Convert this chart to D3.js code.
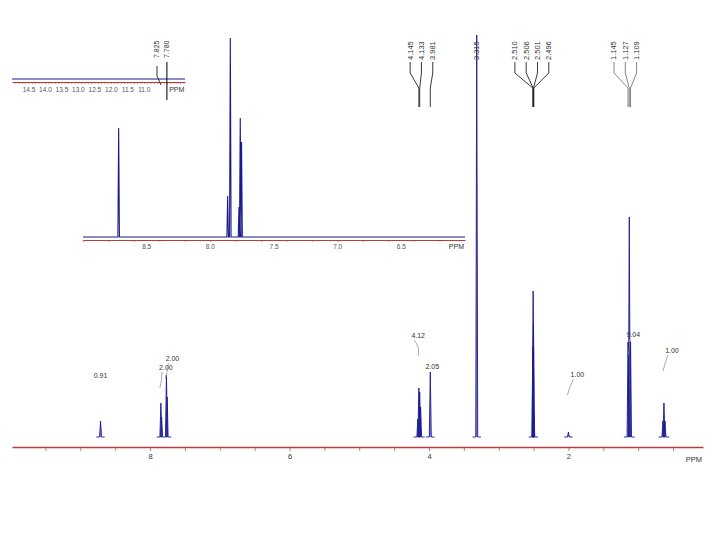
<!DOCTYPE html>
<html><head><meta charset="utf-8">
<script src="https://cdn.jsdelivr.net/npm/d3@7"></script>
<style>body{margin:0;background:#fff} svg{display:block;font-family:"Liberation Sans",Arial,sans-serif}</style>
</head><body><svg id="c" width="720" height="540"></svg>
<script>
// ---- data ----
// main spectrum peaks (ppm, relative intensity)
const mainPpm = [8.71, 7.845, 7.835, 7.765, 7.755, 4.16, 4.145, 4.133, 4.12, 3.981, 3.315, 2.510, 2.506, 2.501, 2.496, 2.00, 1.145, 1.127, 1.109, 0.645, 0.63, 0.615];
const mainInt = [16, 34, 20, 62, 40, 18, 49, 45, 30, 65, 402, 90, 146, 114, 22, 5, 95, 220, 95, 16, 34, 16];
// expanded aromatic region (inset)
const insetPpm = [8.72, 7.864, 7.843, 7.775, 7.765, 7.755];
const insetInt = [109, 41, 199, 30, 119, 95];
// peak pick labels
const pickLabels = ["4.145", "4.133", "3.981", "3.315", "2.510", "2.506", "2.501", "2.496", "1.145", "1.127", "1.109"];
const pickGroup  = [0, 0, 0, 1, 2, 2, 2, 2, 3, 3, 3];
const miniPickLabels = ["7.825", "7.780"];
// integrals
const integralText = ["0.91", "2.00", "2.00", "4.12", "2.05", "1.00", "9.04", "1.00"];
const integralPpm  = [8.71, 7.845, 7.765, 4.14, 3.981, 2.00, 1.127, 0.63];
// axis tick labels
const mainTickLabels = [8, 6, 4, 2];
const insetTickLabels = [8.5, 8.0, 7.5, 7.0, 6.5];
const miniTickLabels = [14.5, 14.0, 13.5, 13.0, 12.5, 12.0, 11.5, 11.0];

// ---- layout ----
const svg = d3.select("#c");
const NAVY = "#1a1a8c", RED = "#b83c3c", TXT = "#555";

const mainX = d3.scaleLinear().domain([9.98, 0.07]).range([12, 703]);
const mainY = d3.scaleLinear().domain([0, 402]).range([437, 35]);
const insetX = d3.scaleLinear().domain([9.0, 6.0]).range([83, 465]);
const insetY = d3.scaleLinear().domain([0, 199]).range([237, 38]);
const miniX = d3.scaleLinear().domain([15.0, 9.75]).range([12, 185]);

function spikes(ppms, ints, hw, from, to) {
  const idx = d3.range(ppms.length).sort((a, b) => ppms[b] - ppms[a]);
  const pts = [[from, 0]];
  idx.forEach(i => { pts.push([ppms[i] + hw, 0], [ppms[i], ints[i]], [ppms[i] - hw, 0]); });
  pts.push([to, 0]);
  return pts;
}

// ---- mini (top-left) axis ----
svg.append("line").attr("x1", 12).attr("x2", 185).attr("y1", 79).attr("y2", 79).attr("stroke", NAVY).attr("stroke-width", 1.2);
const miniAxis = d3.axisBottom(miniX)
  .tickValues(d3.range(98, 150).map(i => i / 10))
  .tickSize(2).tickSizeOuter(0).tickPadding(3)
  .tickFormat(d => miniTickLabels.some(v => Math.abs(v - d) < 1e-6) ? d3.format(".1f")(d) : "");
const gm = svg.append("g").attr("transform", "translate(0,82)").call(miniAxis);
gm.select(".domain").attr("stroke", RED).attr("stroke-width", 1.2);
gm.selectAll(".tick line").attr("stroke", RED).attr("stroke-width", 0.6);
gm.selectAll(".tick text").attr("fill", TXT).attr("font-size", 6.5);
svg.append("text").attr("x", miniX(10.0)).attr("y", 92).attr("text-anchor", "middle").attr("font-size", 7).attr("fill", "#333").text("PPM");
// mini pick labels (left over from expansion)
const miniPos = [10.6, 10.3];
miniPickLabels.forEach((t, i) => {
  const lx = miniX(miniPos[i]);
  svg.append("text").attr("transform", `translate(${lx + 2.5},58) rotate(-90)`).attr("font-size", 7).attr("fill", "#333").text(t);
});
svg.append("path").attr("d", `M${miniX(10.6)},66 V76 L${miniX(10.6) + 4},85`).attr("fill", "none").attr("stroke", "#222").attr("stroke-width", 0.9);
svg.append("path").attr("d", `M${miniX(10.3)},62 V100`).attr("fill", "none").attr("stroke", "#111").attr("stroke-width", 1.1);

// ---- inset expansion ----
const insetLine = d3.line().x(d => insetX(d[0])).y(d => insetY(d[1]));
svg.append("path").attr("d", insetLine(spikes(insetPpm, insetInt, 0.006, 9.0, 6.0)))
  .attr("fill", "none").attr("stroke", NAVY).attr("stroke-width", 1.1);
const insetAxis = d3.axisBottom(insetX)
  .tickValues(d3.range(31, 46).map(i => i / 5))
  .tickSize(2).tickSizeOuter(0).tickFormat("");
const gi = svg.append("g").attr("transform", "translate(0,240)").call(insetAxis);
gi.select(".domain").attr("stroke", RED).attr("stroke-width", 1.2);
gi.selectAll(".tick line").attr("stroke", RED).attr("stroke-width", 0.6);
svg.append("g").selectAll("text").data(insetTickLabels).join("text")
  .attr("x", d => insetX(d)).attr("y", 249).attr("text-anchor", "middle")
  .attr("font-size", 6.5).attr("fill", TXT).text(d => d3.format(".1f")(d));
svg.append("text").attr("x", 464).attr("y", 249).attr("text-anchor", "end").attr("font-size", 7).attr("fill", "#333").text("PPM");

// ---- main spectrum ----
const mainLine = d3.line().x(d => mainX(d[0])).y(d => mainY(d[1]));
const order = d3.range(mainPpm.length).sort((a, b) => mainPpm[b] - mainPpm[a]);
const groups = [];
order.forEach(i => {
  const g = groups[groups.length - 1];
  if (g && mainPpm[g[g.length - 1]] - mainPpm[i] < 0.1) g.push(i); else groups.push([i]);
});
groups.forEach(g => {
  const ps = g.map(i => mainPpm[i]), is = g.map(i => mainInt[i]);
  svg.append("path").attr("d", mainLine(spikes(ps, is, 0.014, d3.max(ps) + 0.06, d3.min(ps) - 0.06)))
    .attr("fill", "#2b2bd0").attr("fill-opacity", 0.6).attr("stroke", NAVY).attr("stroke-width", 0.9);
});
const mainAxis = d3.axisBottom(mainX)
  .tickValues(d3.range(1, 20).map(i => i / 2))
  .tickSize(4).tickSizeOuter(0).tickPadding(3)
  .tickFormat(d => mainTickLabels.includes(d) ? d : "");
const ga = svg.append("g").attr("transform", "translate(0,447)").call(mainAxis);
ga.select(".domain").attr("stroke", RED).attr("stroke-width", 1.3);
ga.selectAll(".tick line").attr("stroke", RED).attr("stroke-width", 0.7);
ga.selectAll(".tick text").attr("fill", "#333").attr("font-size", 7.5);
svg.append("text").attr("x", 702).attr("y", 462).attr("text-anchor", "end").attr("font-size", 7.5).attr("fill", "#333").text("PPM");

// ---- peak pick labels ----
const nGroups = d3.max(pickGroup) + 1;
d3.range(nGroups).forEach(gIdx => {
  const items = pickLabels.filter((t, i) => pickGroup[i] === gIdx);
  const pins = items.map(t => mainX(+t));
  const c = d3.mean(pins) - (gIdx === 3 ? 4 : 1.5), step = 11.3;
  items.forEach((t, k) => {
    const lx = items.length > 1 ? c + (k - (items.length - 1) / 2) * step : pins[k];
    svg.append("text").attr("transform", `translate(${lx + 2.5},60) rotate(-90)`)
      .attr("font-size", 7.5).attr("fill", "#333").text(t);
    if (items.length > 1) {
      svg.append("path").attr("d", `M${lx},62 V73 L${pins[k]},88 V107`)
        .attr("fill", "none").attr("stroke", gIdx === 3 ? "#777" : "#222").attr("stroke-width", 0.9);
    }
  });
});

// ---- integral labels ----
const integralDy = [-43, -33, -14, -34, -3, -55, 120, -50];
const integralDx = [0, 5, 6, -1, 2, 9, 4, 8];
integralText.forEach((t, i) => {
  const px = mainX(integralPpm[i]);
  const top = mainY(mainInt[mainPpm.indexOf(integralPpm[i])] || 65);
  const ly = (i === 6 ? 337 : top + integralDy[i]);
  svg.append("text").attr("x", px + integralDx[i]).attr("y", ly).attr("text-anchor", "middle")
    .attr("font-size", 7).attr("fill", "#333").text(t);
  if (i !== 0 && i !== 4) {
    svg.append("path").attr("d", `M${px + integralDx[i] - 4},${ly + 2} Q${px + 1},${ly + 10} ${px - 1},${ly + 18}`)
      .attr("fill", "none").attr("stroke", "#888").attr("stroke-width", 0.7);
  }
});
</script></body></html>
